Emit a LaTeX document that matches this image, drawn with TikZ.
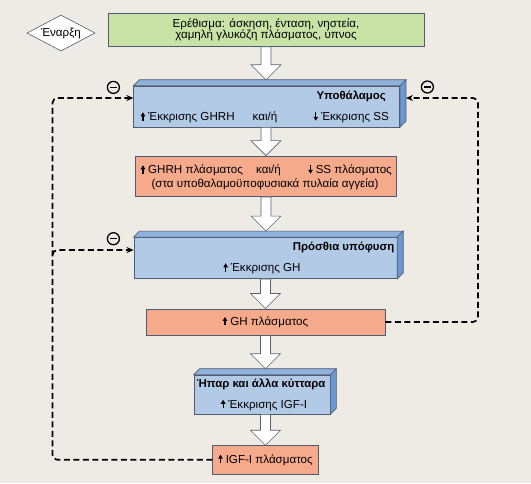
\documentclass[tikz,border=0pt]{standalone}
\usepackage{fontspec}
\setmainfont{Liberation Sans}
\usetikzlibrary{calc,arrows.meta,shapes.geometric}
\definecolor{bg}{HTML}{EEEBE4}
\definecolor{edge}{HTML}{4F5B70}
\definecolor{greenf}{HTML}{C9E3A6}
\definecolor{bluef}{HTML}{B3CAE7}
\definecolor{bluet}{HTML}{8FB1DD}
\definecolor{blues}{HTML}{6D97D1}
\definecolor{orangef}{HTML}{F6AA8C}
\newcommand\up{\tikz[baseline=0pt,x=1pt,y=1pt]\draw[line width=1.2pt,-{Triangle[length=4pt,width=4.5pt]}] (0,0)--(0,8.5);\hspace{3pt}}
\newcommand\down{\tikz[baseline=0pt,x=1pt,y=1pt]\draw[line width=1.2pt,-{Triangle[length=4pt,width=4.5pt]}] (0,8.5)--(0,0);\hspace{3pt}}
\newcommand\threedbox[1]{%
  \filldraw[bluet,draw=edge,line width=0.6pt] (#1.north west) -- ++(6,-6) -- ($(#1.north east)+(6,-6)$) -- (#1.north east) -- cycle;
  \filldraw[blues,draw=edge,line width=0.6pt] (#1.north east) -- ++(6,-6) -- ($(#1.south east)+(6,-6)$) -- (#1.south east) -- cycle;}
\newcommand\hollowarrow[3]{%
  \draw[harrow] let \p1=(#1), \p2=(#2), \p3=(#3) in
    (\x3-5pt,\y1) -- (\x3-5pt,\y2+15pt) -- (\x3-15pt,\y2+15pt) -- (\x3,\y2)
    -- (\x3+15pt,\y2+15pt) -- (\x3+5pt,\y2+15pt) -- (\x3+5pt,\y1) -- cycle;}
\begin{document}
\begin{tikzpicture}[x=1pt,y=-1pt,
  every node/.style={font=\fontsize{11.6}{11.6}\selectfont},
  boxbase/.style={draw=edge,line width=0.6pt,inner sep=0pt},
  greenbox/.style={boxbase,fill=greenf,align=center},
  bluebox/.style={boxbase,fill=bluef},
  orangebox/.style={boxbase,fill=orangef,align=center},
  txt/.style={inner sep=0pt,text height=8pt,text depth=2.5pt},
  ttl/.style={txt,font=\fontsize{11.4}{11.6}\selectfont\bfseries},
  harrow/.style={fill=white,draw=edge!80!gray,line width=0.6pt,line join=miter},
  fb/.style={dash pattern=on 6pt off 3.5pt,line width=1.7pt,rounded corners=5pt,
    -{Stealth[length=7pt,width=6pt]}},
  minus/.style={circle,draw,line width=1.3pt,minimum size=12pt,inner sep=0pt}]
\fill[bg] (0,0) rectangle (531,483);
\useasboundingbox (0,0) rectangle (531,483);

% start diamond
\node[diamond,draw=edge,line width=0.6pt,fill=white,aspect=1.9,inner sep=0pt,
  minimum width=68pt,minimum height=36pt] (start) at (61,33) {Έναρξη};

% stimulus
\node[greenbox,minimum width=316pt,minimum height=33pt] (stim) at (266,30)
  {Ερέθισμα: άσκηση, ένταση, νηστεία,\\χαμηλή γλυκόζη πλάσματος, ύπνος};

% hypothalamus
\node[bluebox,minimum width=266pt,minimum height=41pt] (hyp) at (266.7,106.5) {};
\threedbox{hyp}
\node[ttl,anchor=east] (hyptitle) at (386,97) {Υποθάλαμος};
\node[txt,anchor=west] (hypa) at (140.5,118) {\up Έκκρισης GHRH};
\node[txt] (hypb) at (265,118) {και/ή};
\node[txt,anchor=east] (hypc) at (389,118) {\down Έκκρισης SS};

% plasma GHRH/SS
\node[orangebox,minimum width=261.5pt,minimum height=40.7pt] (or1) at (266,176.3) {};
\node[txt,anchor=west] (or1a) at (140.5,171) {\up GHRH πλάσματος};
\node[txt] (or1b) at (268.5,171) {και/ή};
\node[txt,anchor=east] (or1c) at (392,171) {\down SS πλάσματος};
\node[txt] (or1d) at (265,185) {(στα υποθαλαμοϋποφυσιακά πυλαία αγγεία)};

% anterior pituitary
\node[bluebox,minimum width=263pt,minimum height=41.3pt] (ant) at (265.4,258) {};
\threedbox{ant}
\node[ttl,anchor=east] (anttitle) at (394.5,248) {Πρόσθια υπόφυση};
\node[txt] (antb) at (262,269) {\up Έκκρισης GH};

% GH plasma
\node[orangebox,minimum width=239pt,minimum height=26.4pt] (gh) at (265.5,322) {\up GH πλάσματος};

% liver
\node[bluebox,minimum width=136pt,minimum height=39pt] (liver) at (262,394.5) {};
\threedbox{liver}
\node[ttl] (livertitle) at (261,384.5) {Ήπαρ και άλλα κύτταρα};
\node[txt] (liverb) at (264,405.5) {\up Έκκρισης IGF-I};

% IGF plasma
\node[orangebox,minimum width=105.6pt,minimum height=28.5pt] (igf) at (265.5,459.8) {\up IGF-I πλάσματος};

% top anchors of 3D boxes
\coordinate (hyptop) at ([yshift=6pt]hyp.north);
\coordinate (anttop) at ([yshift=6pt]ant.north);
\coordinate (livertop) at ([yshift=6pt]liver.north);

% hollow arrows
\hollowarrow{stim.south}{hyptop}{stim.south}
\hollowarrow{hyp.south}{or1.north}{or1.north}
\hollowarrow{or1.south}{anttop}{or1.south}
\hollowarrow{ant.south}{gh.north}{gh.north}
\hollowarrow{gh.south}{livertop}{gh.south}
\hollowarrow{liver.south}{igf.north}{igf.north}

% feedback loops
\coordinate (hypin) at ([yshift=8.5pt]hyp.west);
\coordinate (antin) at ([yshift=8pt]ant.west);
\coordinate (hypside) at ($(hyp.east)+(6,-8.5)$);
\coordinate (ltop) at (52.5,98);
\coordinate (rtop) at (478,98);
\coordinate (lbr) at (52.5,250);

\draw[fb] (igf.west) -| (ltop) -- (hypin);
\draw[fb] ([yshift=-5pt]lbr) |- (antin);
\draw[fb] (gh.east) -| (rtop) -- (hypside);

% inhibition signs
\node[minus] (m1) at (113.4,87.4) {};
\node[minus] (m2) at (427.4,87) {};
\node[minus] (m3) at (113.4,238.7) {};
\foreach \m in {m1,m2,m3}
  \draw[line width=1.3pt] ([xshift=-3.5pt]\m.center) -- ([xshift=3.5pt]\m.center);
\end{tikzpicture}
\end{document}
